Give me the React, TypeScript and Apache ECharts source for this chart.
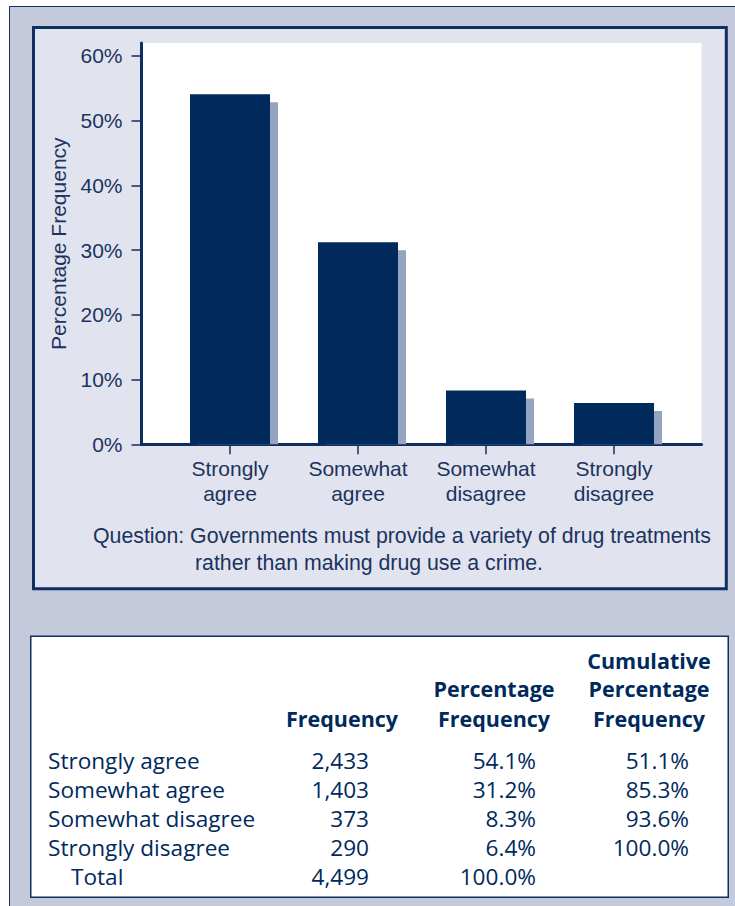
import React, { useEffect, useRef } from "react";
import * as echarts from "echarts";

// Survey responses
const categories = ["Strongly agree", "Somewhat agree", "Somewhat disagree", "Strongly disagree"];
const frequencies = [2433, 1403, 373, 290];
const percentages = [54.1, 31.2, 8.3, 6.4];
const cumulative = [51.1, 85.3, 93.6, 100.0];
const totalFrequency = 4499;
const totalPercentage = 100.0;
const yTicks = [0, 10, 20, 30, 40, 50, 60];
const questionLines = [
  "Question: Governments must provide a variety of drug treatments",
  "rather than making drug use a crime.",
];
const headerCols = [
  ["Frequency"],
  ["Percentage", "Frequency"],
  ["Cumulative", "Percentage", "Frequency"],
];

const NAVY = "#002a5c";
const BORDER = "#0f2f60";
const TEXT = "#1b335f";
const SHADOW = "#96a4c2";
const PANEL = "#e1e4ee";
const OUTER = "#c4c9dc";
const CHART_FONT = "'Liberation Sans', Arial, sans-serif";
const TABLE_FONT = "'Open Sans', Lato, sans-serif";

const BAR_W = 80;
const SHADOW_OFF = 8;

const fmtInt = (n: number) => n.toLocaleString("en-US");
const fmtPct = (n: number) => n.toFixed(1) + "%";

// central-baseline y for a given alphabetic baseline
const midTable = (baseline: number, fs: number) => baseline - 0.35 * fs;
const midArial = (baseline: number, fs: number) => baseline - 0.3465 * fs;

function buildGraphics() {
  const els: any[] = [];
  // outer frame
  els.push({
    type: "rect",
    z: -10,
    shape: { x: 9.5, y: 6.5, width: 740, height: 910 },
    style: { fill: OUTER, stroke: BORDER, lineWidth: 1 },
  });
  // chart panel
  els.push({
    type: "rect",
    z: -9,
    shape: { x: 33.5, y: 27.5, width: 692.8, height: 561.3 },
    style: { fill: PANEL, stroke: BORDER, lineWidth: 3 },
  });
  // table box
  els.push({
    type: "rect",
    z: -9,
    shape: { x: 30.75, y: 636.25, width: 697.5, height: 261 },
    style: { fill: "#ffffff", stroke: BORDER, lineWidth: 1.5 },
  });

  // question text
  const qfs = 21.3;
  const qx = [93, 195];
  const qBase = [543.3, 570];
  questionLines.forEach((line, i) => {
    els.push({
      type: "text",
      x: qx[i],
      y: midArial(qBase[i], qfs),
      style: {
        text: line,
        fill: TEXT,
        font: `${qfs}px ${CHART_FONT}`,
        align: "left",
        verticalAlign: "middle",
      },
    });
  });

  // table header
  const hfs = 21.5;
  const headerCenters = [342, 494, 649];
  const headerBaselines = [667.7, 696.5, 726];
  headerCols.forEach((lines, c) => {
    const offset = 3 - lines.length;
    lines.forEach((t, r) => {
      els.push({
        type: "text",
        x: headerCenters[c],
        y: midTable(headerBaselines[r + offset], hfs),
        style: {
          text: t,
          fill: NAVY,
          font: `bold ${hfs}px ${TABLE_FONT}`,
          align: "center",
          verticalAlign: "middle",
        },
      });
    });
  });

  // table body
  const bfs = 22.6;
  const rowBaselines = [768, 797, 826, 855, 884];
  const colRight = [369, 536, 689];
  const cell = (text: string, x: number, baseline: number, align: string) => ({
    type: "text",
    x,
    y: midTable(baseline, bfs),
    style: {
      text,
      fill: NAVY,
      font: `${bfs}px ${TABLE_FONT}`,
      align,
      verticalAlign: "middle",
    },
  });
  categories.forEach((cat, i) => {
    const b = rowBaselines[i];
    els.push(cell(cat, 48, b, "left"));
    els.push(cell(fmtInt(frequencies[i]), colRight[0], b, "right"));
    els.push(cell(fmtPct(percentages[i]), colRight[1], b, "right"));
    els.push(cell(fmtPct(cumulative[i]), colRight[2], b, "right"));
  });
  const tb = rowBaselines[4];
  els.push(cell("Total", 71, tb, "left"));
  els.push(cell(fmtInt(totalFrequency), colRight[0], tb, "right"));
  els.push(cell(fmtPct(totalPercentage), colRight[1], tb, "right"));
  return els;
}

export default function App() {
  const ref = useRef<HTMLDivElement>(null);

  useEffect(() => {
    if (!ref.current) return;
    const chart = echarts.init(ref.current, undefined, { renderer: "svg" });

    const plotTop = 43;
    const plotHeight = 401.3;
    const yMax = 62;

    const option: any = {
      animation: false,
      backgroundColor: "#ffffff",
      textStyle: { fontFamily: CHART_FONT },
      grid: [
        {
          left: 141.5,
          top: plotTop,
          width: 560,
          height: plotHeight,
          show: true,
          backgroundColor: "#ffffff",
          borderWidth: 0,
        },
        { left: 166, top: plotTop, width: 512, height: plotHeight },
      ],
      xAxis: [
        {
          gridIndex: 0,
          type: "value",
          min: 0,
          max: 1,
          axisLine: { show: true, lineStyle: { color: BORDER, width: 3 } },
          axisTick: { show: false },
          axisLabel: { show: false },
          splitLine: { show: false },
        },
        {
          gridIndex: 1,
          type: "category",
          data: categories,
          axisLine: { show: false },
          axisTick: {
            show: true,
            alignWithLabel: true,
            length: 10,
            lineStyle: { color: BORDER, width: 1.5 },
          },
          axisLabel: {
            color: TEXT,
            fontSize: 21,
            lineHeight: 25,
            margin: 12,
            interval: 0,
            fontFamily: CHART_FONT,
            formatter: (v: string) => v.replace(" ", "\n"),
          },
          splitLine: { show: false },
        },
      ],
      yAxis: [
        {
          gridIndex: 0,
          type: "value",
          min: 0,
          max: yMax,
          interval: 10,
          name: "Percentage Frequency",
          nameLocation: "middle",
          nameGap: 73,
          nameTextStyle: { color: TEXT, fontSize: 21, fontFamily: CHART_FONT },
          axisLine: { show: true, lineStyle: { color: BORDER, width: 3 } },
          axisTick: {
            show: true,
            length: 10,
            customValues: yTicks,
            lineStyle: { color: BORDER, width: 1.5 },
          },
          axisLabel: {
            customValues: yTicks,
            formatter: (v: number) => `${v}%`,
            color: TEXT,
            fontSize: 21,
            margin: 19,
            fontFamily: CHART_FONT,
          },
          splitLine: { show: false },
        },
        { gridIndex: 1, type: "value", min: 0, max: yMax, show: false },
      ],
      series: [
        {
          type: "custom",
          xAxisIndex: 1,
          yAxisIndex: 1,
          z: 1,
          encode: { x: 0, y: 1 },
          data: percentages.map((v, i) => [i, v]),
          renderItem: (_params: any, api: any) => {
            const idx = api.value(0);
            const v = api.value(1);
            const top = api.coord([idx, v]);
            const base = api.coord([idx, 0]);
            return {
              type: "rect",
              shape: {
                x: top[0] - BAR_W / 2 + SHADOW_OFF,
                y: top[1] + SHADOW_OFF,
                width: BAR_W,
                height: base[1] - top[1] - SHADOW_OFF,
              },
              style: { fill: SHADOW },
            };
          },
        },
        {
          type: "bar",
          xAxisIndex: 1,
          yAxisIndex: 1,
          z: 2,
          barWidth: BAR_W,
          data: percentages,
          itemStyle: { color: NAVY },
        },
      ],
      graphic: buildGraphics(),
    };

    chart.setOption(option);
    return () => chart.dispose();
  }, []);

  return (
    <div
      ref={ref}
      style={{ position: "absolute", left: 0, top: 0, width: 735, height: 906 }}
    />
  );
}
